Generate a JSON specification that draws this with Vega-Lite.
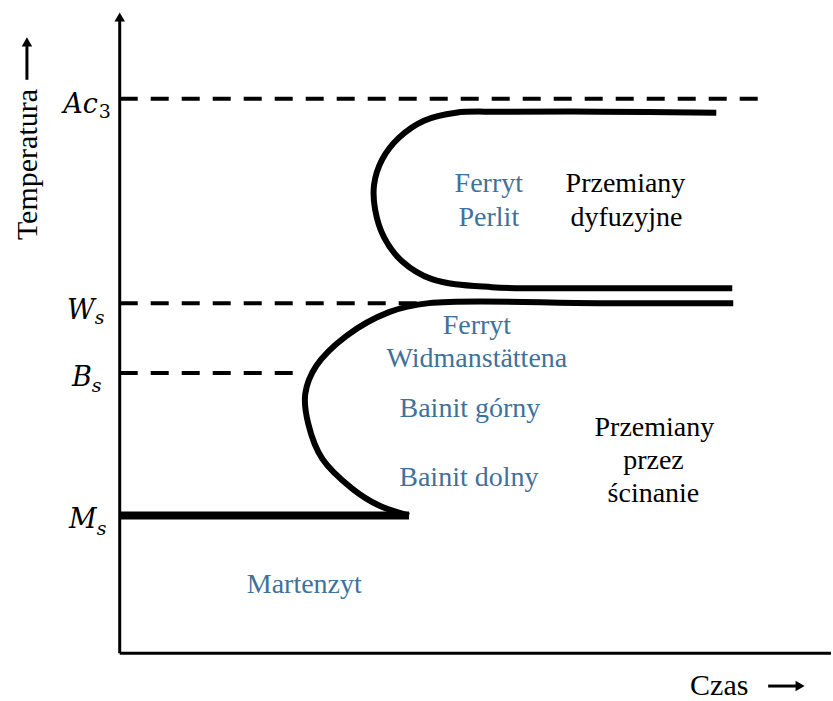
{
  "$schema": "https://vega.github.io/schema/vega-lite/v6.json",
  "width": 833,
  "height": 701,
  "padding": 0,
  "autosize": {"type": "fit", "contains": "padding"},
  "background": "white",
  "view": {"stroke": null},
  "datasets": {
    "curves": [
      {"c": "upper", "i": 0, "t": 718, "T": 588},
      {"c": "upper", "i": 1, "t": 600, "T": 589},
      {"c": "upper", "i": 2, "t": 500, "T": 589},
      {"c": "upper", "i": 3, "t": 457, "T": 588},
      {"c": "upper", "i": 4, "t": 425, "T": 580},
      {"c": "upper", "i": 5, "t": 400, "T": 563},
      {"c": "upper", "i": 6, "t": 383, "T": 541},
      {"c": "upper", "i": 7, "t": 375, "T": 516},
      {"c": "upper", "i": 8, "t": 376, "T": 491},
      {"c": "upper", "i": 9, "t": 385, "T": 463},
      {"c": "upper", "i": 10, "t": 403, "T": 439},
      {"c": "upper", "i": 11, "t": 433, "T": 421},
      {"c": "upper", "i": 12, "t": 493, "T": 413},
      {"c": "upper", "i": 13, "t": 600, "T": 412},
      {"c": "upper", "i": 14, "t": 734, "T": 412},
      {"c": "lower", "i": 0, "t": 735, "T": 397},
      {"c": "lower", "i": 1, "t": 600, "T": 397},
      {"c": "lower", "i": 2, "t": 430, "T": 397},
      {"c": "lower", "i": 3, "t": 390, "T": 388},
      {"c": "lower", "i": 4, "t": 347, "T": 364},
      {"c": "lower", "i": 5, "t": 317, "T": 334},
      {"c": "lower", "i": 6, "t": 306, "T": 306},
      {"c": "lower", "i": 7, "t": 309, "T": 276},
      {"c": "lower", "i": 8, "t": 323, "T": 241},
      {"c": "lower", "i": 9, "t": 353, "T": 211},
      {"c": "lower", "i": 10, "t": 380, "T": 194},
      {"c": "lower", "i": 11, "t": 410, "T": 184}
    ],
    "dashed": [
      {"name": "Ac3", "t": 120, "t2": 765, "T": 602},
      {"name": "Ws", "t": 120, "t2": 425, "T": 397},
      {"name": "Bs", "t": 120, "t2": 303, "T": 327}
    ],
    "frame": [
      {"name": "yaxis", "t": 120, "t2": 120, "T": 46, "T2": 683},
      {"name": "xaxis", "t": 120, "t2": 833, "T": 46, "T2": 46},
      {"name": "tempArrow", "t": 27, "t2": 27, "T": 621, "T2": 655},
      {"name": "timeArrow", "t": 770, "t2": 800, "T": 13, "T2": 13}
    ],
    "heads": [
      {"name": "yaxis", "dir": "up", "t": 120, "T": 684},
      {"name": "tempArrow", "dir": "up", "t": 27, "T": 659},
      {"name": "timeArrow", "dir": "right", "t": 802, "T": 13}
    ],
    "ms": [
      {"name": "Ms", "t": 120, "t2": 410, "T": 184}
    ],
    "labels": [
      {"kind": "blue", "label": "Ferryt", "t": 490, "T": 508},
      {"kind": "blue", "label": "Perlit", "t": 490, "T": 474},
      {"kind": "blue", "label": "Ferryt", "t": 478, "T": 366},
      {"kind": "blue", "label": "Widmanstättena", "t": 478, "T": 333},
      {"kind": "blue", "label": "Bainit górny", "t": 471, "T": 283},
      {"kind": "blue", "label": "Bainit dolny", "t": 470, "T": 214},
      {"kind": "blue", "label": "Martenzyt", "t": 305, "T": 106},
      {"kind": "black", "label": "Przemiany", "t": 627, "T": 508},
      {"kind": "black", "label": "dyfuzyjne", "t": 628, "T": 474},
      {"kind": "black", "label": "Przemiany", "t": 656, "T": 264},
      {"kind": "black", "label": "przez", "t": 655, "T": 231},
      {"kind": "black", "label": "ścinanie", "t": 655, "T": 198}
    ],
    "xtitle": [
      {"label": "Czas", "t": 721, "T": 4}
    ],
    "math": [
      {"label": "Ac", "t": 98, "T": 588},
      {"label": "W", "t": 95, "T": 381},
      {"label": "B", "t": 92, "T": 314},
      {"label": "M", "t": 97, "T": 171}
    ],
    "subs": [
      {"label": "3", "t": 99, "T": 583, "style": "normal"},
      {"label": "s", "t": 95, "T": 376, "style": "italic"},
      {"label": "s", "t": 92, "T": 308, "style": "italic"},
      {"label": "s", "t": 97, "T": 164, "style": "italic"}
    ],
    "ytitle": [
      {"label": "Temperatura", "t": 37, "T": 536}
    ]
  },
  "encoding": {
    "x": {"field": "t", "type": "quantitative", "scale": {"domain": [0, 833], "nice": false, "zero": false}, "axis": null},
    "y": {"field": "T", "type": "quantitative", "scale": {"domain": [0, 701], "nice": false, "zero": false}, "axis": null}
  },
  "layer": [
    {
      "data": {"name": "dashed"},
      "mark": {"type": "rule", "color": "black", "strokeWidth": 4, "strokeDash": [18, 13]},
      "encoding": {"x2": {"field": "t2"}}
    },
    {
      "data": {"name": "frame"},
      "mark": {"type": "rule", "color": "black", "strokeWidth": 3},
      "encoding": {"x2": {"field": "t2"}, "y2": {"field": "T2"}}
    },
    {
      "data": {"name": "ms"},
      "mark": {"type": "rule", "color": "black", "strokeWidth": 8},
      "encoding": {"x2": {"field": "t2"}}
    },
    {
      "data": {"name": "curves"},
      "mark": {"type": "line", "color": "black", "strokeWidth": 6, "interpolate": "catmull-rom", "strokeCap": "butt", "strokeJoin": "round"},
      "encoding": {"detail": {"field": "c"}, "order": {"field": "i", "type": "quantitative"}}
    },
    {
      "data": {"name": "heads"},
      "transform": [{"filter": "datum.dir === 'up'"}],
      "mark": {"type": "point", "shape": "triangle-up", "filled": true, "color": "black", "opacity": 1, "size": 110}
    },
    {
      "data": {"name": "heads"},
      "transform": [{"filter": "datum.dir === 'right'"}],
      "mark": {"type": "point", "shape": "triangle-right", "filled": true, "color": "black", "opacity": 1, "size": 110}
    },
    {
      "data": {"name": "labels"},
      "transform": [{"filter": "datum.kind === 'blue'"}],
      "mark": {"type": "text", "font": "Liberation Serif", "fontSize": 28, "color": "#3f729b", "align": "center", "baseline": "alphabetic"},
      "encoding": {"text": {"field": "label"}}
    },
    {
      "data": {"name": "labels"},
      "transform": [{"filter": "datum.kind === 'black'"}],
      "mark": {"type": "text", "font": "Liberation Serif", "fontSize": 28, "color": "black", "align": "center", "baseline": "alphabetic"},
      "encoding": {"text": {"field": "label"}}
    },
    {
      "data": {"name": "xtitle"},
      "mark": {"type": "text", "font": "Liberation Serif", "fontSize": 30, "color": "black", "align": "center", "baseline": "alphabetic"},
      "encoding": {"text": {"field": "label"}}
    },
    {
      "data": {"name": "ytitle"},
      "mark": {"type": "text", "font": "Liberation Serif", "fontSize": 30, "color": "black", "align": "center", "baseline": "alphabetic", "angle": 270},
      "encoding": {"text": {"field": "label"}}
    },
    {
      "data": {"name": "math"},
      "mark": {"type": "text", "font": "DejaVu Serif", "fontStyle": "italic", "fontSize": 27, "color": "black", "align": "right", "baseline": "alphabetic"},
      "encoding": {"text": {"field": "label"}}
    },
    {
      "data": {"name": "subs"},
      "transform": [{"filter": "datum.style === 'italic'"}],
      "mark": {"type": "text", "font": "DejaVu Serif", "fontStyle": "italic", "fontSize": 19, "color": "black", "align": "left", "baseline": "alphabetic"},
      "encoding": {"text": {"field": "label"}}
    },
    {
      "data": {"name": "subs"},
      "transform": [{"filter": "datum.style === 'normal'"}],
      "mark": {"type": "text", "font": "DejaVu Serif", "fontSize": 19, "color": "black", "align": "left", "baseline": "alphabetic"},
      "encoding": {"text": {"field": "label"}}
    }
  ]
}
